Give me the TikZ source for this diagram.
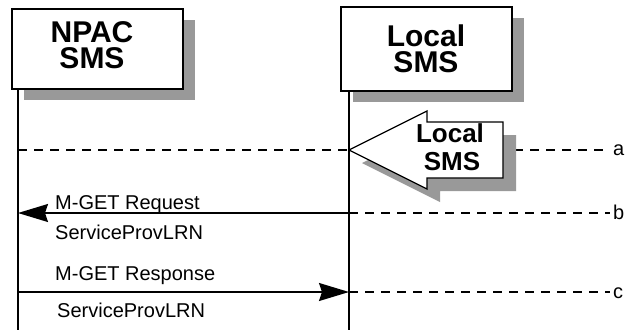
\documentclass[tikz,border=0pt]{standalone}
\usepackage{fontspec}
\setmainfont{Liberation Sans}
\usetikzlibrary{arrows.meta,shadows}
\definecolor{shadowgray}{HTML}{999999}
\begin{document}
\begin{tikzpicture}[x=1pt,y=-1pt,
  hdrbox/.style={draw=black,line width=1.3pt,fill=white,inner sep=0pt,
    drop shadow={shadow xshift=12pt,shadow yshift=-11pt,fill=shadowgray,opacity=1}},
  hdrtext/.style={font=\fontsize{30}{26}\selectfont\bfseries,align=center,inner sep=0pt},
  cotext/.style={font=\fontsize{26}{28}\selectfont\bfseries,inner sep=0pt,anchor=base},
  life/.style={line width=1.5pt},
  msg/.style={line width=1.5pt,-{Stealth[length=30pt,width=18pt,inset=3pt]}},
  guide/.style={line width=1.5pt,dash pattern=on 9pt off 7pt},
  lbl/.style={font=\fontsize{20}{24}\selectfont,inner sep=0pt,anchor=base west},
]
\useasboundingbox (0,0) rectangle (627,333);

% header boxes
\node[hdrbox,minimum width=171pt,minimum height=80pt] (nbox) at (97.5,49) {};
\node[hdrtext] (ntext) at (92,45) {NPAC\\SMS};
\node[hdrbox,minimum width=171pt,minimum height=84pt] (lbox) at (426.5,49) {};
\node[hdrtext] (ltext) at (426,49) {Local\\SMS};

% lifelines
\coordinate (ntop) at (18,89);
\coordinate (nbot) at (18,330);
\coordinate (ltop) at (349,91);
\coordinate (lbot) at (349,330);

% guide line a
\coordinate (na) at (18,150);
\coordinate (ea) at (610,150);
\node[lbl] (la) at (613,155) {a};
\draw[guide] (na) -- (ea);

% guide lines b, c
\coordinate (nb) at (18,213);
\coordinate (lb) at (349,213);
\coordinate (eb) at (610,213);
\node[lbl] (lblb) at (613,219) {b};
\draw[guide] (lb) -- (eb);

\coordinate (nc) at (18,292);
\coordinate (lc) at (349,292);
\coordinate (ec) at (610,292);
\node[lbl] (lblc) at (613,298) {c};
\draw[guide] (lc) -- (ec);

\draw[life] (ntop) -- (nbot);
\draw[life] (ltop) -- (lbot);

% callout arrow "Local SMS"
\begin{scope}[shift={(13,13)}]
  \fill[shadowgray] (349,150) -- (427,111) -- (427,122) -- (503,122) -- (503,178) -- (427,178) -- (427,189) -- cycle;
\end{scope}
\filldraw[fill=white,draw=black,line width=1.3pt,line join=miter]
  (349,150) -- (427,111) -- (427,122) -- (503,122) -- (503,178) -- (427,178) -- (427,189) -- cycle;
\node[cotext] (colocal) at (450,142) {Local};
\node[cotext] (cosms) at (452,170) {SMS};

% messages
\draw[msg] (lb) -- (nb);
\node[lbl] (m1) at (55,209) {M-GET Request};
\node[lbl] (m1b) at (55,239) {ServiceProvLRN};
\draw[msg] (nc) -- (lc);
\node[lbl] (m2) at (55,280) {M-GET Response};
\node[lbl] (m2b) at (57,317) {ServiceProvLRN};
\end{tikzpicture}
\end{document}
